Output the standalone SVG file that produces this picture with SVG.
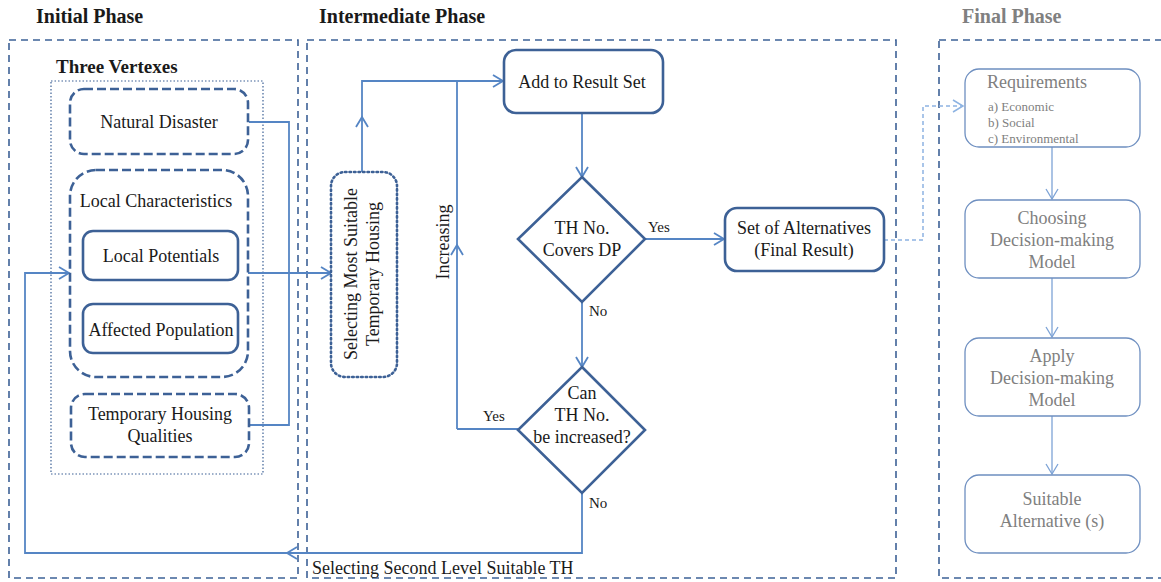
<svg xmlns="http://www.w3.org/2000/svg" width="1161" height="582" viewBox="0 0 1161 582">
<style>
text{font-family:"Liberation Serif","Times New Roman",serif;fill:#1a1a1a;}
.title{font-size:20px;font-weight:bold;}
.t18{font-size:18px;}
.t16{font-size:16px;}
.t15{font-size:15px;}
.gray{fill:#808080;}
.frame{fill:none;stroke:#3d6196;stroke-width:1.6;stroke-dasharray:7 5;}
.dnode{fill:#fff;stroke:#3d6196;stroke-width:2.6;stroke-dasharray:9 4;}
.snode{fill:#fff;stroke:#3d6196;stroke-width:2.6;}
.fnode{fill:#fff;stroke:#6e8fc0;stroke-width:1.3;}
.conn{fill:none;stroke:#5585c4;stroke-width:1.8;}
.fconn{fill:none;stroke:#7da3d6;stroke-width:1.3;}
.light{fill:none;stroke:#8db3e2;stroke-width:1.5;stroke-dasharray:4 3;}
</style>
<defs>
<marker id="arr" markerUnits="userSpaceOnUse" markerWidth="14" markerHeight="16" refX="11" refY="7" orient="auto">
<path d="M1,1 L11,7 L1,13" fill="none" stroke="#5585c4" stroke-width="1.8"/>
</marker>
<marker id="arrl" markerUnits="userSpaceOnUse" markerWidth="14" markerHeight="16" refX="11" refY="7" orient="auto">
<path d="M1,1 L11,7 L1,13" fill="none" stroke="#8db3e2" stroke-width="1.5"/>
</marker>
<marker id="arrf" markerUnits="userSpaceOnUse" markerWidth="14" markerHeight="16" refX="11" refY="7" orient="auto">
<path d="M1,1 L11,7 L1,13" fill="none" stroke="#7da3d6" stroke-width="1.3"/>
</marker>
</defs>

<g id="phases">
<text class="title" x="36" y="23">Initial  Phase</text>
<text class="title" x="319" y="23">Intermediate Phase</text>
<text class="title gray" x="962" y="23">Final Phase</text>
<rect class="frame" x="9" y="40" width="289" height="538"/>
<rect class="frame" x="307" y="40" width="589" height="538"/>
<rect class="frame" x="939" y="40" width="240" height="538"/>
</g>

<g id="three-vertexes">
<text class="title" x="56" y="73" style="font-size:19px">Three Vertexes</text>
<rect x="51" y="81" width="212" height="393" fill="none" stroke="#3d6196" stroke-width="1.2" stroke-dasharray="1.5 2"/>
</g>

<g id="connectors">
<polyline class="conn" points="249,122 289,122 289,425 249,425"/>
<line class="conn" x1="238" y1="273" x2="331" y2="273" marker-end="url(#arr)"/>
<line class="conn" x1="362" y1="172" x2="362" y2="117" marker-end="url(#arr)"/>
<polyline class="conn" points="362,118 362,81 503,81" marker-end="url(#arr)"/>
<line class="conn" x1="457" y1="429" x2="457" y2="245" marker-end="url(#arr)"/>
<line class="conn" x1="457" y1="246" x2="457" y2="81"/>
<line class="conn" x1="518" y1="429" x2="457" y2="429"/>
<line class="conn" x1="582" y1="113" x2="582" y2="177" marker-end="url(#arr)"/>
<line class="conn" x1="645" y1="239" x2="724" y2="239" marker-end="url(#arr)"/>
<line class="conn" x1="582" y1="302" x2="582" y2="367" marker-end="url(#arr)"/>
<polyline class="conn" points="582,493 582,553 287,553" marker-end="url(#arr)"/>
<polyline class="conn" points="288,553 25,553 25,273 69,273" marker-end="url(#arr)"/>
<polyline class="light" points="884,240 923,240 923,106 963,106" marker-end="url(#arrl)"/>
<line class="fconn" x1="1052" y1="147" x2="1052" y2="199" marker-end="url(#arrf)"/>
<line class="fconn" x1="1052" y1="278" x2="1052" y2="337" marker-end="url(#arrf)"/>
<line class="fconn" x1="1052" y1="416" x2="1052" y2="474" marker-end="url(#arrf)"/>
</g>

<g id="labels">
<text class="t15" x="483" y="421">Yes</text>
<text class="t15" x="648" y="232">Yes</text>
<text class="t15" x="589" y="316">No</text>
<text class="t15" x="589" y="508">No</text>
<text x="312" y="574" style="font-size:18px">Selecting Second Level Suitable TH</text>
<text class="t18" transform="translate(449,242) rotate(-90)" text-anchor="middle">Increasing</text>
</g>

<g id="natural-disaster">
<rect class="dnode" x="70" y="89" width="178" height="65" rx="14"/>
<text class="t18" x="159" y="128" text-anchor="middle">Natural Disaster</text>
</g>

<g id="local-characteristics">
<rect class="dnode" x="70" y="170" width="178" height="207" rx="26"/>
<text class="t18" x="156" y="207" text-anchor="middle">Local Characteristics</text>
</g>

<g id="local-potentials">
<rect class="snode" x="83" y="231" width="155" height="49" rx="10"/>
<text class="t18" x="161" y="262" text-anchor="middle">Local Potentials</text>
</g>

<g id="affected-population">
<rect class="snode" x="83" y="304" width="155" height="49" rx="10"/>
<text class="t18" x="161" y="336" text-anchor="middle">Affected Population</text>
</g>

<g id="th-qualities">
<rect class="dnode" x="71" y="394" width="178" height="63" rx="14"/>
<text class="t18" x="160" y="420" text-anchor="middle">Temporary Housing</text>
<text class="t18" x="160" y="442" text-anchor="middle">Qualities</text>
</g>

<g id="selecting-most-suitable">
<rect x="331" y="172" width="66" height="205" rx="14" fill="#fff" stroke="#3d6196" stroke-width="2.6" stroke-dasharray="1.5 3" stroke-linecap="round"/>
<text class="t18" transform="translate(357,274) rotate(-90)" text-anchor="middle">Selecting Most Suitable</text>
<text class="t18" transform="translate(379,274) rotate(-90)" text-anchor="middle">Temporary Housing</text>
</g>

<g id="add-to-result">
<rect class="snode" x="504" y="50" width="159" height="63" rx="12"/>
<text class="t18" x="582" y="88" text-anchor="middle">Add to Result Set</text>
</g>

<g id="covers-dp">
<polygon class="snode" points="582,177 645,239 582,302 518,239"/>
<text class="t18" x="582" y="234" text-anchor="middle">TH No.</text>
<text class="t18" x="582" y="256" text-anchor="middle">Covers DP</text>
</g>

<g id="can-increase">
<polygon class="snode" points="582,367 645,430 582,493 518,430"/>
<text class="t18" x="582" y="399" text-anchor="middle">Can</text>
<text class="t18" x="582" y="421" text-anchor="middle">TH No.</text>
<text class="t18" x="582" y="443" text-anchor="middle">be increased?</text>
</g>

<g id="set-of-alternatives">
<rect class="snode" x="725" y="208" width="159" height="63" rx="12"/>
<text class="t18" x="804" y="234" text-anchor="middle">Set of Alternatives</text>
<text class="t18" x="804" y="256" text-anchor="middle">(Final Result)</text>
</g>

<g id="requirements">
<rect class="fnode" x="965" y="69" width="175" height="78" rx="14"/>
<text class="t18 gray" x="987" y="88">Requirements</text>
<text class="gray" x="988" y="111" style="font-size:13px">a) Economic</text>
<text class="gray" x="988" y="127" style="font-size:13px">b) Social</text>
<text class="gray" x="988" y="143" style="font-size:13px">c) Environmental</text>
</g>

<g id="choosing-model">
<rect class="fnode" x="965" y="200" width="175" height="78" rx="14"/>
<text class="t18 gray" x="1052" y="224" text-anchor="middle">Choosing</text>
<text class="t18 gray" x="1052" y="246" text-anchor="middle">Decision-making</text>
<text class="t18 gray" x="1052" y="268" text-anchor="middle">Model</text>
</g>

<g id="apply-model">
<rect class="fnode" x="965" y="338" width="175" height="78" rx="14"/>
<text class="t18 gray" x="1052" y="362" text-anchor="middle">Apply</text>
<text class="t18 gray" x="1052" y="384" text-anchor="middle">Decision-making</text>
<text class="t18 gray" x="1052" y="406" text-anchor="middle">Model</text>
</g>

<g id="suitable-alternatives">
<rect class="fnode" x="965" y="475" width="175" height="78" rx="14"/>
<text class="t18 gray" x="1052" y="505" text-anchor="middle">Suitable</text>
<text class="t18 gray" x="1052" y="527" text-anchor="middle">Alternative (s)</text>
</g>
</svg>
